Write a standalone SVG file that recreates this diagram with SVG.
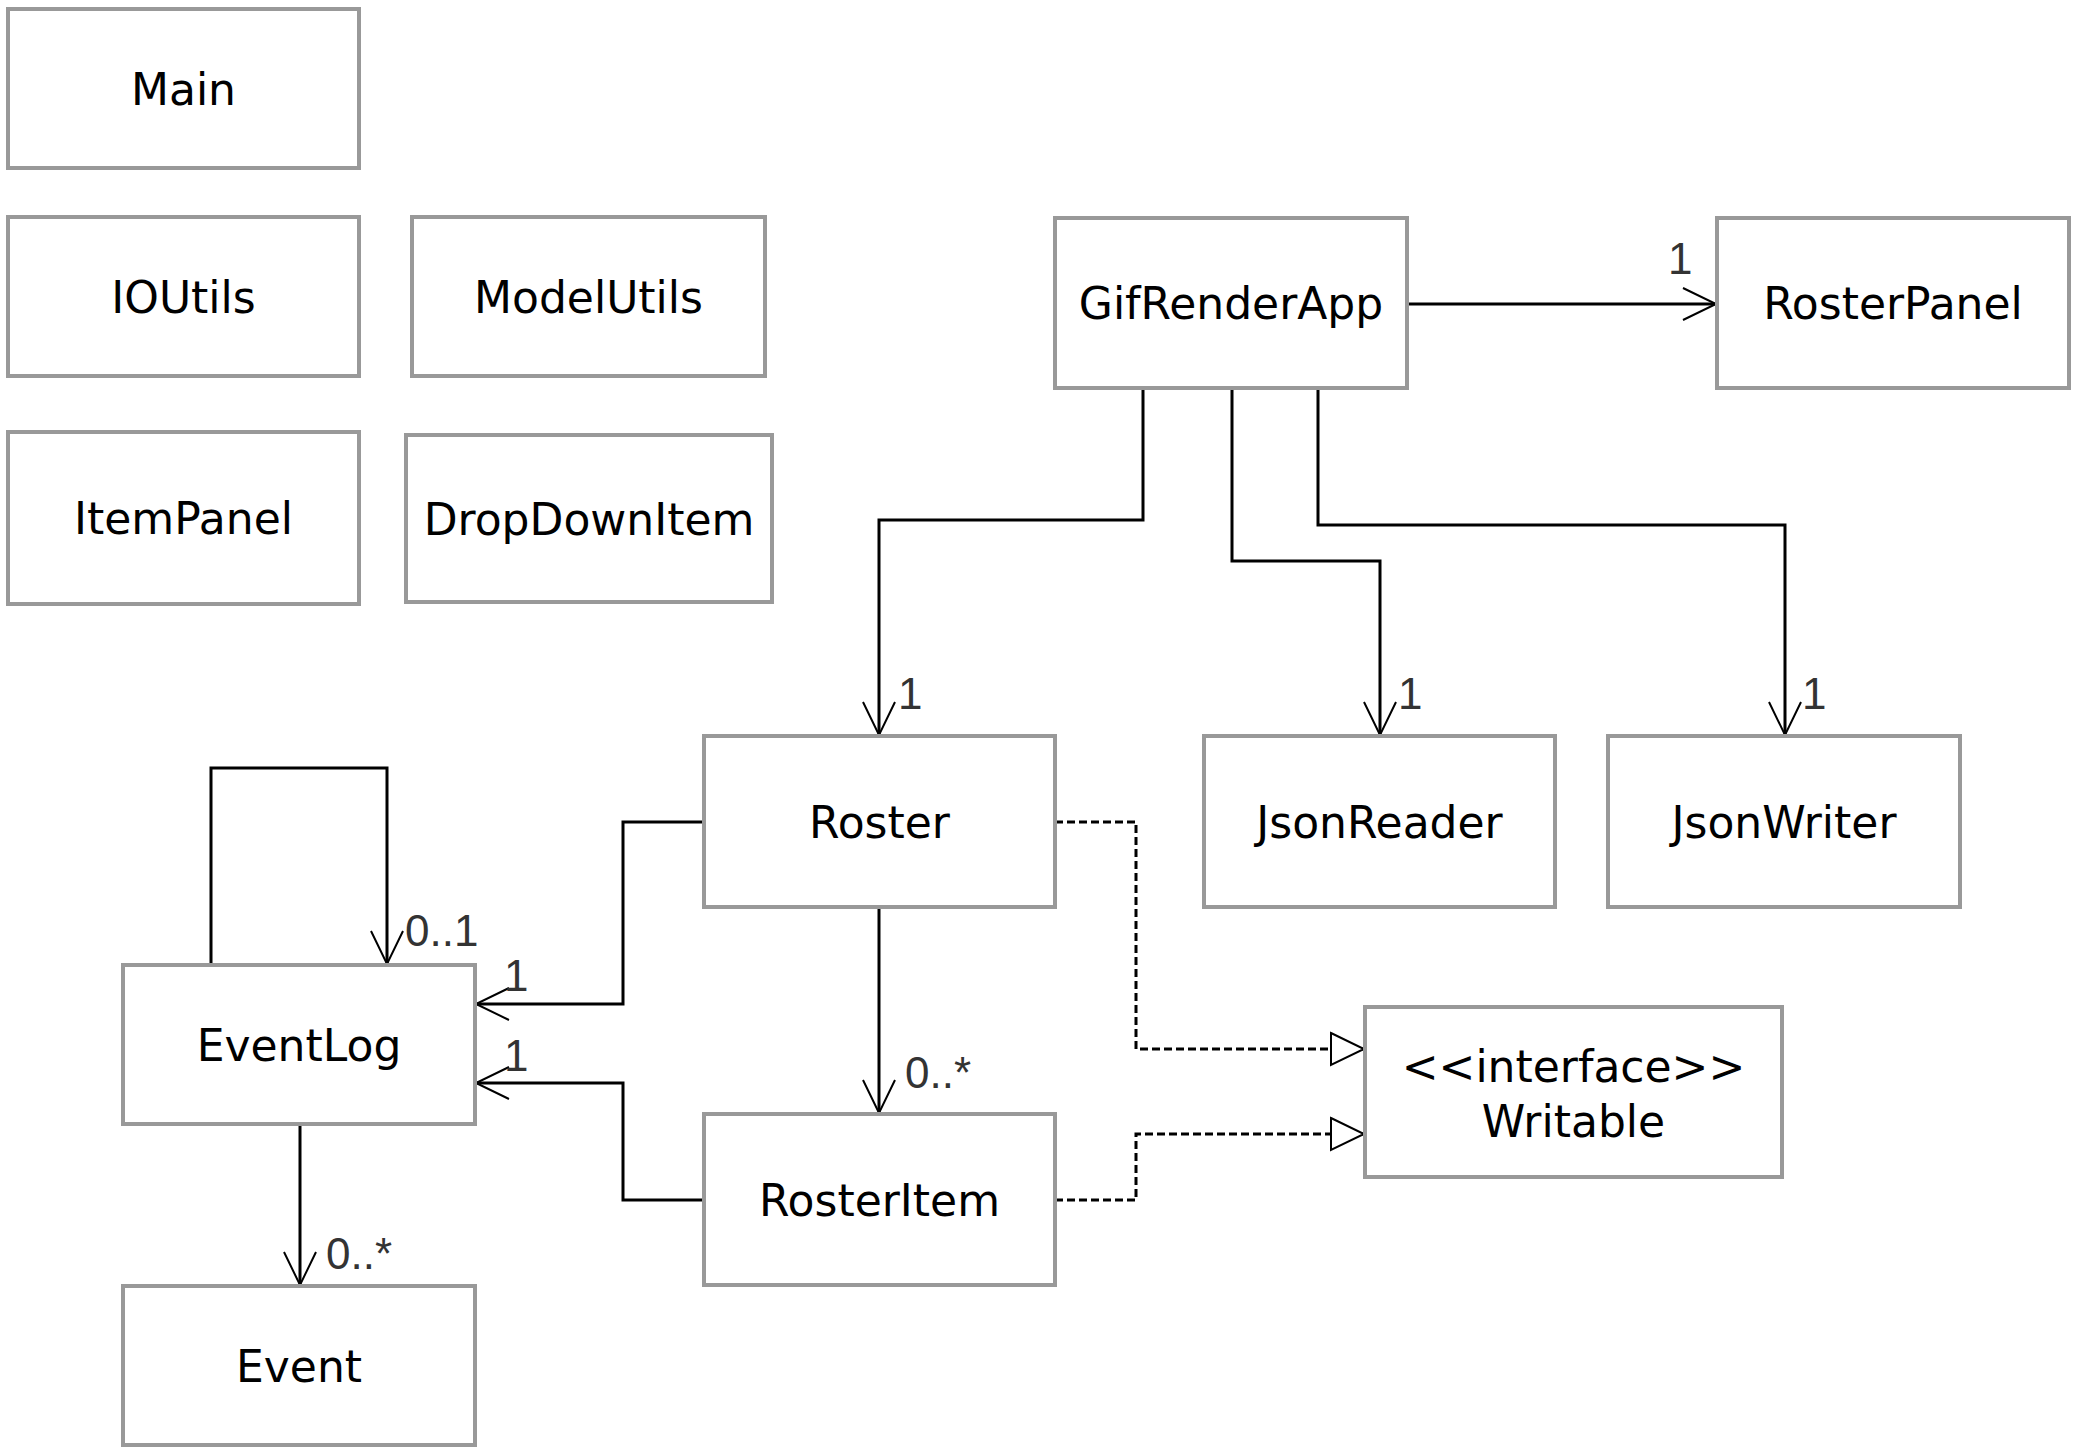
<svg xmlns="http://www.w3.org/2000/svg" width="2079" height="1453" viewBox="0 0 2079 1453">
<style>
.box{fill:#fff;stroke:#999;stroke-width:4}
.t{font-family:"DejaVu Sans",Verdana,sans-serif;font-size:44px;fill:#000;text-anchor:middle}
.m{font-family:"Liberation Sans",Arial,sans-serif;font-size:44px;fill:#333}
.c{fill:none;stroke:#000;stroke-width:3}
.d{fill:none;stroke:#000;stroke-width:3;stroke-dasharray:8 4}
</style>
<defs>
<marker id="open" markerUnits="userSpaceOnUse" markerWidth="40" markerHeight="40" viewBox="-36 -20 40 40" refX="0" refY="0" orient="auto" overflow="visible">
<path d="M-33,-16 L0,0 L-33,16" fill="none" stroke="#000" stroke-width="2"/>
</marker>
<marker id="tri" markerUnits="userSpaceOnUse" markerWidth="40" markerHeight="40" viewBox="-36 -20 40 40" refX="0" refY="0" orient="auto" overflow="visible">
<path d="M-33,-16 L0,0 L-33,16 Z" fill="#fff" stroke="#000" stroke-width="2"/>
</marker>
</defs>
<rect width="2079" height="1453" fill="#fff"/>
<g id="connectors">
<path class="c" d="M1407,304 H1716" marker-end="url(#open)"/>
<path class="c" d="M1143,388 V520 H879 V735" marker-end="url(#open)"/>
<path class="c" d="M1232,388 V561 H1380 V735" marker-end="url(#open)"/>
<path class="c" d="M1318,388 V525 H1785 V735" marker-end="url(#open)"/>
<path class="c" d="M704,822 H623 V1004 H476" marker-end="url(#open)"/>
<path class="c" d="M704,1200 H623 V1083 H476" marker-end="url(#open)"/>
<path class="c" d="M879,907 V1113" marker-end="url(#open)"/>
<path class="c" d="M211,965 V768 H387 V964" marker-end="url(#open)"/>
<path class="c" d="M300,1124 V1285" marker-end="url(#open)"/>
<path class="d" d="M1055,822 H1136 V1049 H1364" marker-end="url(#tri)"/>
<path class="d" d="M1055,1200 H1136 V1134 H1364" marker-end="url(#tri)"/>
<text class="m" x="1668" y="274">1</text>
<text class="m" x="898" y="709">1</text>
<text class="m" x="1398" y="709">1</text>
<text class="m" x="1802" y="709">1</text>
<text class="m" x="905" y="1088">0..*</text>
<text class="m" x="326" y="1269">0..*</text>
<text class="m" x="405" y="946">0..1</text>
<text class="m" x="504" y="991">1</text>
<text class="m" x="504" y="1071">1</text>
</g>
<g id="Main"><rect class="box" x="8" y="9" width="351" height="159"/><text class="t" x="183.5" y="104.5">Main</text></g>
<g id="IOUtils"><rect class="box" x="8" y="217" width="351" height="159"/><text class="t" x="183.5" y="312.5">IOUtils</text></g>
<g id="ModelUtils"><rect class="box" x="412" y="217" width="353" height="159"/><text class="t" x="588.5" y="312.5">ModelUtils</text></g>
<g id="ItemPanel"><rect class="box" x="8" y="432" width="351" height="172"/><text class="t" x="183.5" y="534">ItemPanel</text></g>
<g id="DropDownItem"><rect class="box" x="406" y="435" width="366" height="167"/><text class="t" x="589" y="534.5">DropDownItem</text></g>
<g id="GifRenderApp"><rect class="box" x="1055" y="218" width="352" height="170"/><text class="t" x="1231" y="319">GifRenderApp</text></g>
<g id="RosterPanel"><rect class="box" x="1717" y="218" width="352" height="170"/><text class="t" x="1893" y="319">RosterPanel</text></g>
<g id="Roster"><rect class="box" x="704" y="736" width="351" height="171"/><text class="t" x="879.5" y="837.5">Roster</text></g>
<g id="JsonReader"><rect class="box" x="1204" y="736" width="351" height="171"/><text class="t" x="1379.5" y="837.5">JsonReader</text></g>
<g id="JsonWriter"><rect class="box" x="1608" y="736" width="352" height="171"/><text class="t" x="1784" y="837.5">JsonWriter</text></g>
<g id="EventLog"><rect class="box" x="123" y="965" width="352" height="159"/><text class="t" x="299" y="1060.5">EventLog</text></g>
<g id="RosterItem"><rect class="box" x="704" y="1114" width="351" height="171"/><text class="t" x="879.5" y="1215.5">RosterItem</text></g>
<g id="Writable"><rect class="box" x="1365" y="1007" width="417" height="170"/><text class="t" x="1573.5" y="1082">&lt;&lt;interface&gt;&gt;</text><text class="t" x="1573.5" y="1137">Writable</text></g>
<g id="Event"><rect class="box" x="123" y="1286" width="352" height="159"/><text class="t" x="299" y="1381.5">Event</text></g>
</svg>
